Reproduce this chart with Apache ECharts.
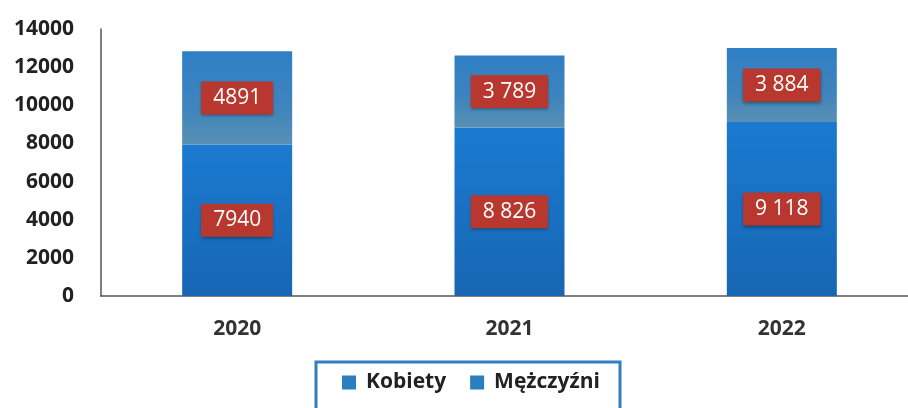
<!DOCTYPE html>
<html>
<head>
<meta charset="utf-8">
<script src="https://cdn.jsdelivr.net/npm/echarts@6/dist/echarts.min.js"></script>
<style>
  html, body { margin: 0; padding: 0; background: #fff; overflow: hidden; }
  #container { width: 918px; height: 408px; }
</style>
</head>
<body>
<div id="container"></div>
<script type="text/javascript">
// data
var years = ['2020', '2021', '2022'];
var kobiety = [7940, 8826, 9118];
var mezczyzni = [4891, 3789, 3884];
var kobietyLabels = ['7940', '8 826', '9 118'];
var mezczyzniLabels = ['4891', '3 789', '3 884'];
var seriesNames = ['Kobiety', 'Mężczyźni'];

var myChart = echarts.init(document.getElementById('container'));

function boxLabel(texts) {
    return {
        show: true,
        position: 'inside',
        formatter: function (p) { return texts[p.dataIndex]; },
        color: '#fff',
        fontFamily: 'Open Sans',
        fontSize: 21,
        backgroundColor: '#b8382f',
        padding: [6, 12, 6, 12],
        shadowColor: 'rgba(0,0,0,0.35)',
        shadowBlur: 3,
        shadowOffsetY: 2
    };
}

var option = {
    animation: false,
    grid: { left: 101, right: 0, top: 29, bottom: 112 },
    legend: {
        data: [
            { name: seriesNames[0], itemStyle: { color: '#2a7fc0' } },
            { name: seriesNames[1], itemStyle: { color: '#2a7fc0' } }
        ],
        left: 316,
        top: 362,
        icon: 'rect',
        itemWidth: 14,
        itemHeight: 14,
        itemGap: 24,
        borderColor: '#2f7fc1',
        borderWidth: 3,
        padding: [10, 20, 30, 26],
        textStyle: {
            fontFamily: 'Open Sans', fontWeight: 'bold', fontSize: 21, color: '#222',
            padding: [0, 0, 0, 5]
        }
    },
    xAxis: {
        type: 'category',
        data: years,
        axisTick: { show: false },
        axisLine: { lineStyle: { color: '#555', width: 1.5 } },
        axisLabel: { fontFamily: 'Open Sans', fontWeight: 'bold', fontSize: 21, color: '#333', margin: 23 }
    },
    yAxis: {
        type: 'value',
        min: 0,
        max: 14000,
        interval: 2000,
        splitLine: { show: false },
        axisTick: { show: false },
        axisLine: { show: true, lineStyle: { color: '#555', width: 1.5 } },
        axisLabel: {
            formatter: function (v) { return String(v); },
            fontFamily: 'Open Sans', fontWeight: 'bold', fontSize: 21, color: '#222', margin: 27
        }
    },
    series: [
        {
            name: seriesNames[0],
            type: 'bar',
            stack: 'all',
            barWidth: 110,
            data: kobiety,
            itemStyle: {
                color: new echarts.graphic.LinearGradient(0, 0, 0, 1, [
                    { offset: 0, color: '#1b7ad0' },
                    { offset: 1, color: '#1766b3' }
                ])
            },
            label: boxLabel(kobietyLabels)
        },
        {
            name: seriesNames[1],
            type: 'bar',
            stack: 'all',
            barWidth: 110,
            data: mezczyzni,
            itemStyle: {
                color: new echarts.graphic.LinearGradient(0, 0, 0, 1, [
                    { offset: 0, color: '#2f7fc6' },
                    { offset: 0.6, color: '#3f84bd' },
                    { offset: 1, color: '#5890b4' }
                ])
            },
            label: boxLabel(mezczyzniLabels)
        }
    ]
};

myChart.setOption(option);
</script>
</body>
</html>
